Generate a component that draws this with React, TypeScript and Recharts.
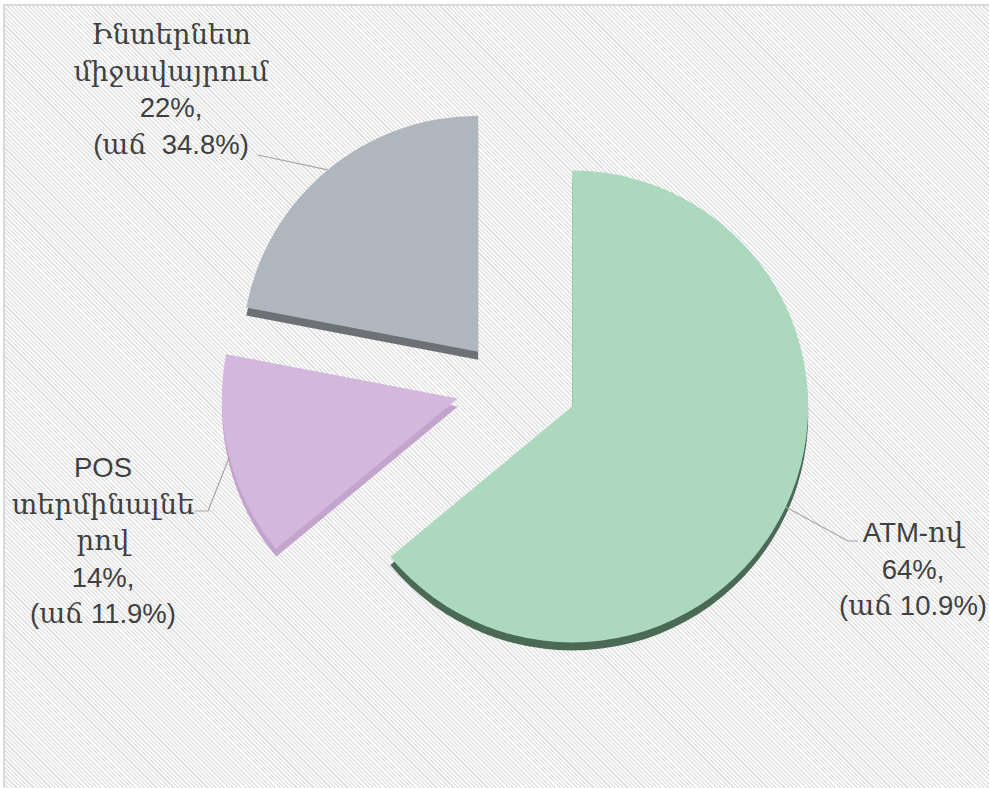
import React from 'react';
import { PieChart, Pie, Sector } from 'recharts';

// ---- data ----
const categories = ['ATM-ով', 'POS տերմինալներով', 'Ինտերնետ միջավայրում'];
const shares = [64, 14, 22];
const growth = [10.9, 11.9, 34.8];
const growthGaps = [' ', ' ', '  '];
const nameLines = [['ATM-ով'], ['POS', 'տերմինալնե', 'րով'], ['Ինտերնետ', 'միջավայրում']];

// ---- styles ----
const faceColors = ['#acd8be', '#d4b7dd', '#afb6bd'];
const sideColors = ['#4b6a55', '#c2a4cc', '#6d7176'];
const TEXT_COLOR = '#404040';
const FONT = "'Liberation Sans', Arial, 'DejaVu Serif', sans-serif";

// ---- layout ----
const W = 989;
const H = 788;
const CX = 517;
const CY = 387;
const R = 236;
const EXPLODE = 61;
const TILT = 0.75;
const DEPTH = 8;
const FONT_SIZE = 27.5;
const LINE_H = 36.5;
const RAD = Math.PI / 180;

const labelLayout = [
  { x: 913, y0: 542, elbow: [848, 541], end: [858, 541] },
  { x: 103, y0: 477, elbow: [208, 511], end: [195, 511] },
  { x: 171, y0: 44, elbow: null, end: [258, 155] },
];

const tableData = categories.map((name, i) => ({
  name,
  value: shares[i],
  fill: faceColors[i],
  side: sideColors[i],
  idx: i,
}));

const explodeOffset = (midAngle: number) => {
  const a = -midAngle * RAD;
  return { dx: EXPLODE * Math.cos(a), dy: EXPLODE * TILT * Math.sin(a) };
};

const SliceShape = (props: any) => {
  const { cx, cy, outerRadius, startAngle, endAngle } = props;
  const mid = props.midAngle ?? (startAngle + endAngle) / 2;
  const idx = props.idx ?? props.payload?.idx ?? 0;
  const { dx, dy } = explodeOffset(mid);
  return (
    <g>
      <Sector
        cx={cx + dx}
        cy={cy + dy + DEPTH}
        innerRadius={0}
        outerRadius={outerRadius}
        startAngle={startAngle}
        endAngle={endAngle}
        fill={sideColors[idx]}
        stroke="none"
      />
      <Sector
        cx={cx + dx}
        cy={cy + dy}
        innerRadius={0}
        outerRadius={outerRadius}
        startAngle={startAngle}
        endAngle={endAngle}
        fill={faceColors[idx]}
        stroke="none"
      />
    </g>
  );
};

const renderLabel = (props: any) => {
  const { cx, cy, midAngle, outerRadius } = props;
  const idx = props.idx ?? props.payload?.idx ?? props.index ?? 0;
  const { dx, dy } = explodeOffset(midAngle);
  const a = -midAngle * RAD;
  const ax = cx + dx + outerRadius * Math.cos(a);
  const ay = cy + dy + outerRadius * Math.sin(a);
  const L = labelLayout[idx];
  const pts: number[][] = [[ax, ay]];
  if (L.elbow) pts.push(L.elbow);
  pts.push(L.end);
  const lines = [
    ...nameLines[idx],
    `${shares[idx]}%,`,
    `(աճ${growthGaps[idx]}${growth[idx]}%)`,
  ];
  return (
    <g>
      <polyline
        points={pts.map((p) => p.join(',')).join(' ')}
        fill="none"
        stroke="#a6a6a6"
        strokeWidth={1.2}
      />
      {lines.map((t, k) => (
        <text
          key={k}
          x={L.x}
          y={L.y0 + k * LINE_H}
          textAnchor="middle"
          fontSize={FONT_SIZE}
          fontFamily={FONT}
          fill={TEXT_COLOR}
          style={{ whiteSpace: 'pre' }}
        >
          {t}
        </text>
      ))}
    </g>
  );
};

export default function App() {
  return (
    <div style={{ position: 'absolute', left: 0, top: 0, width: W, height: H, overflow: 'hidden', background: '#ffffff' }}>
      <div
        style={{
          position: 'absolute',
          left: 3,
          top: 4,
          width: W,
          height: H,
          borderLeft: '2px solid #d9d9d9',
          borderTop: '2px solid #d9d9d9',
          background:
            'repeating-linear-gradient(45deg, #e2e2e2 0px, #e2e2e2 1.5px, #ffffff 1.5px, #ffffff 3px)',
        }}
      />
      <div style={{ position: 'absolute', left: 0, top: 0 }}>
        <PieChart width={W} height={H} margin={{ top: 0, right: 0, bottom: 0, left: 0 }}>
          <Pie
            data={tableData}
            dataKey="value"
            nameKey="name"
            cx={CX}
            cy={CY}
            innerRadius={0}
            outerRadius={R}
            startAngle={90}
            endAngle={-270}
            stroke="none"
            isAnimationActive={false}
            labelLine={false}
            label={renderLabel}
            shape={SliceShape}
            activeShape={SliceShape}
            inactiveShape={SliceShape}
          />
        </PieChart>
      </div>
    </div>
  );
}
